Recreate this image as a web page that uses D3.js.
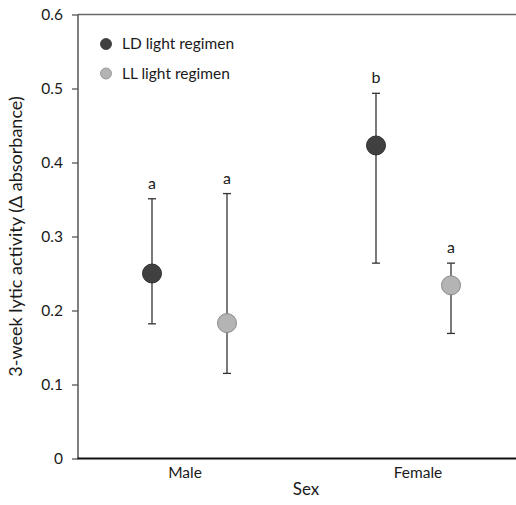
<!DOCTYPE html>
<html><head><meta charset="utf-8">
<script src="https://cdn.jsdelivr.net/npm/d3@7"></script>
<style>body{margin:0;background:#fff;} text{font-family:Lato,"Open Sans",sans-serif;fill:#1a1a1a;}</style>
</head><body><svg id="c" width="516" height="505"></svg>
<script>
const groups = ["Male", "Female"];
const series = ["LD light regimen", "LL light regimen"];
const means = [[0.250, 0.183], [0.423, 0.234]];
const upper = [[0.351, 0.358], [0.4935, 0.264]];
const lower = [[0.182, 0.115], [0.264, 0.169]];
const letters = [["a", "a"], ["b", "a"]];
const yTicks = [0, 0.1, 0.2, 0.3, 0.4, 0.5, 0.6];
const colors = ["#404040", "#b4b4b4"];
const strokes = ["#2e2e2e", "#8a8a8a"];

const svg = d3.select("#c");
const L = 78, R = 516, T = 14.5, B = 458.5;
const y = d3.scaleLinear().domain([0, 0.6]).range([B, T]);
const x = d3.scalePoint().domain(groups).range([189.5, 413.5]);
const off = d3.scalePoint().domain([0, 1]).range([-37.5, 37.5]);

// axes
svg.append("line").attr("x1", L).attr("x2", R).attr("y1", T).attr("y2", T).attr("stroke", "#6a6a6a").attr("stroke-width", 1.3);
svg.append("line").attr("x1", L).attr("x2", L).attr("y1", T).attr("y2", B).attr("stroke", "#555").attr("stroke-width", 1.5);
svg.append("line").attr("x1", L - 0.75).attr("x2", R).attr("y1", B).attr("y2", B).attr("stroke", "#111").attr("stroke-width", 2);

const yAxis = d3.axisLeft(y).tickValues(yTicks).tickSize(6).tickPadding(9)
  .tickFormat(d => d === 0 ? "0" : d3.format(".1f")(d));
const ga = svg.append("g").attr("transform", `translate(${L},0)`).call(yAxis);
ga.select(".domain").remove();
ga.selectAll(".tick line").attr("stroke", "#555").attr("stroke-width", 1.3);
ga.selectAll(".tick text").attr("font-size", 15.5).style("fill", "#1a1a1a").attr("font-family", "Lato, sans-serif");

// x labels
svg.selectAll(".xl").data(groups).enter().append("text")
  .attr("x", (d, i) => x(d) + (i === 0 ? -4.5 : 4.5)).attr("y", 478).attr("text-anchor", "middle").attr("font-size", 15.5).text(d => d);
svg.append("text").attr("x", 306).attr("y", 495).attr("text-anchor", "middle").attr("font-size", 17).text("Sex");
svg.append("text").attr("transform", `translate(22,${(T + B) / 2}) rotate(-90)`).attr("text-anchor", "middle")
  .attr("font-size", 18).text("3-week lytic activity (Δ absorbance)");

// points
const pts = [];
groups.forEach((g, gi) => series.forEach((s, si) => pts.push({g, gi, si})));
const gp = svg.append("g");
pts.forEach(p => {
  const cx = x(p.g) + off(p.si);
  const col = "#333";
  gp.append("line").attr("x1", cx).attr("x2", cx).attr("y1", y(upper[p.gi][p.si])).attr("y2", y(lower[p.gi][p.si]))
    .attr("stroke", col).attr("stroke-width", 1.3);
  [upper[p.gi][p.si], lower[p.gi][p.si]].forEach(v => {
    gp.append("line").attr("x1", cx - 4).attr("x2", cx + 4).attr("y1", y(v)).attr("y2", y(v)).attr("stroke", col).attr("stroke-width", 1.3);
  });
  gp.append("circle").attr("cx", cx).attr("cy", y(means[p.gi][p.si])).attr("r", 9.5)
    .attr("fill", colors[p.si]).attr("stroke", strokes[p.si]).attr("stroke-width", 1);
  gp.append("text").attr("x", cx).attr("y", y(upper[p.gi][p.si]) - 10).attr("text-anchor", "middle")
    .attr("font-size", 16).text(letters[p.gi][p.si]);
});

// legend
series.forEach((s, i) => {
  const ly = 44 + i * 29.5;
  svg.append("circle").attr("cx", 106).attr("cy", ly).attr("r", 5.5).attr("fill", colors[i]).attr("stroke", strokes[i]).attr("stroke-width", 0.8);
  svg.append("text").attr("x", 122).attr("y", ly + 5).attr("font-size", 15.5).text(s);
});
</script></body></html>
